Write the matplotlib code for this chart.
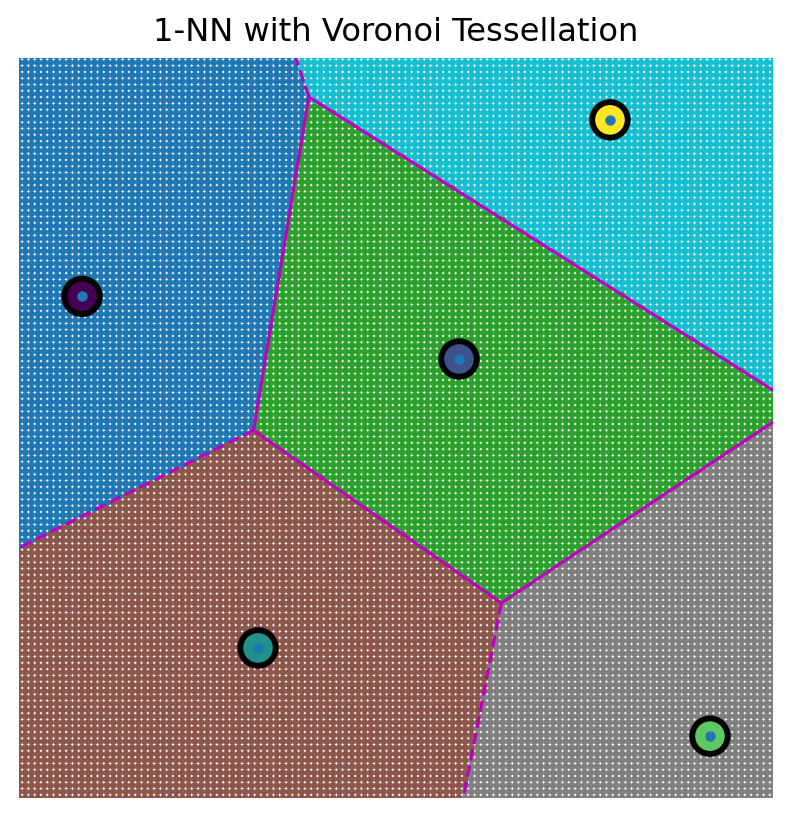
import numpy as np
import matplotlib
matplotlib.use('Agg')
import matplotlib.pyplot as plt
from itertools import combinations

# --- Data (training points) ---
point_x = [0.836, 7.838, 5.836, 3.170, 9.164]
point_y = [6.650, 8.990, 5.820, 1.990, 0.820]
point_label = [0, 4, 1, 2, 3]

# grid extent / step for the decision-region scatter
x_min, x_max = 0.0, 10.0
y_min, y_max = 0.0, 9.81
h = 1.0 / 12

pts = np.column_stack([point_x, point_y])
labels = np.array(point_label)

# --- 1-NN labels on a grid ---
gx = np.arange(x_min, x_max + h / 2, h)
gy = np.arange(y_min, y_max + h / 2, h)
xx, yy = np.meshgrid(gx, gy)
grid = np.column_stack([xx.ravel(), yy.ravel()])
d2 = ((grid[:, None, :] - pts[None, :, :]) ** 2).sum(axis=2)
zz = labels[d2.argmin(axis=1)]


# --- Voronoi (small brute force, 5 points) ---
def circumcenter(a, b, c):
    d = 2 * (a[0] * (b[1] - c[1]) + b[0] * (c[1] - a[1]) + c[0] * (a[1] - b[1]))
    ux = ((a @ a) * (b[1] - c[1]) + (b @ b) * (c[1] - a[1]) + (c @ c) * (a[1] - b[1])) / d
    uy = ((a @ a) * (c[0] - b[0]) + (b @ b) * (a[0] - c[0]) + (c @ c) * (b[0] - a[0])) / d
    return np.array([ux, uy])


vertices = []
for tri in combinations(range(len(pts)), 3):
    c = circumcenter(*pts[list(tri)])
    r = np.linalg.norm(pts[tri[0]] - c)
    others = [k for k in range(len(pts)) if k not in tri]
    if all(np.linalg.norm(pts[k] - c) > r - 1e-9 for k in others):
        vertices.append((tri, c))

center = pts.mean(axis=0)
ptp = np.ptp(pts, axis=0)
finite_segs, infinite_segs = [], []
for i, j in combinations(range(len(pts)), 2):
    vs = [c for tri, c in vertices if i in tri and j in tri]
    if len(vs) == 2:
        finite_segs.append(vs)
    elif len(vs) == 1:
        t = pts[j] - pts[i]
        t = t / np.linalg.norm(t)
        n = np.array([-t[1], t[0]])
        mid = (pts[i] + pts[j]) / 2
        direction = np.sign(np.dot(mid - center, n)) * n
        far = vs[0] + direction * ptp.max() * 2
        infinite_segs.append([vs[0], far])

# --- Plot ---
fig = plt.figure(figsize=(792 / 150, 817 / 150), dpi=150)
ax = fig.add_axes([19 / 792, 19 / 817, 754 / 792, 740 / 817])

# decision regions: touching circles, gaps show as white dots
diam_pt = h * (754 / 10) / 150 * 72 * 1.12
ax.scatter(xx.ravel(), yy.ravel(), c=zz, cmap='tab10', s=diam_pt ** 2,
           marker='o', linewidths=0)

ax.scatter(point_x, point_y, c=point_label, cmap='viridis', s=290,
           edgecolors='black', linewidths=2.8, zorder=3)

for a, b in finite_segs:
    ax.plot([a[0], b[0]], [a[1], b[1]], color='m', lw=1.5, zorder=2)
for a, b in infinite_segs:
    ax.plot([a[0], b[0]], [a[1], b[1]], color='m', lw=1.5, ls='dashed', zorder=2)

ax.plot(point_x, point_y, '.', color='C0', markersize=8, zorder=4)

ax.set_xlim(x_min, x_max)
ax.set_ylim(y_min, y_max)
ax.axis('off')
ax.set_title('1-NN with Voronoi Tessellation', fontsize=15.4, pad=8)

plt.savefig('out.png', dpi=150)
